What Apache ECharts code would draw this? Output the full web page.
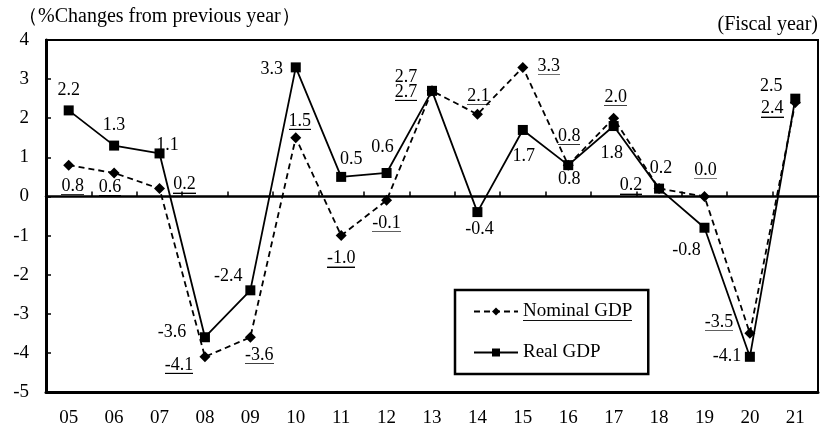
<!DOCTYPE html>
<html>
<head>
<meta charset="utf-8">
<script src="https://cdn.jsdelivr.net/npm/echarts@6/dist/echarts.min.js"></script>
<style>html,body{margin:0;padding:0;background:#fff;}#c{width:821px;height:428px;}</style>
</head>
<body>
<div id="c"></div>
<script>
// ---- data ----
var categories = ['05','06','07','08','09','10','11','12','13','14','15','16','17','18','19','20','21'];
var nominalGDP = [0.8, 0.6, 0.2, -4.1, -3.6, 1.5, -1.0, -0.1, 2.7, 2.1, 3.3, 0.8, 2.0, 0.2, 0.0, -3.5, 2.4];
var realGDP    = [2.2, 1.3, 1.1, -3.6, -2.4, 3.3, 0.5, 0.6, 2.7, -0.4, 1.7, 0.8, 1.8, 0.2, -0.8, -4.1, 2.5];
var yTicks = [-5, -4, -3, -2, -1, 0, 1, 2, 3, 4];

// ---- label placement (style) ----
var realLabelOffset = [[0,-20],[0,-20],[8,-8],[-33,-5],[-22,-14],[-24,2],[10,-18],[-4,-26],[-26,-14],[2,17],[1,26],[1,14],[-2,27],[2,-20],[-18,23],[-23,-1],[-24,-12]];
var nomLabelOffset  = [[4,21],[-4,14],[25,-4],[-26,8],[9,18],[4,-17],[0,23],[0,23],[-26,1],[1,-18],[26,-1],[1,-29],[2,-21],[-28,-3],[1,-26],[-31,-11],[-23,6]];

var FONT = '"Liberation Serif", "Times New Roman", serif';

// underline image: a thin canvas whose bottom row is black, stretched behind the text box
function underlineImage(h) {
  var cv = document.createElement('canvas');
  cv.width = 4; cv.height = h;
  var ctx = cv.getContext('2d');
  ctx.fillStyle = '#000';
  ctx.fillRect(0, h - 1, 4, 1);
  return cv;
}
var UL18 = underlineImage(18);
var UL20 = underlineImage(20);

function items(vals, offs) {
  return vals.map(function (v, i) { return { value: v, label: { offset: offs[i] } }; });
}

var chart = echarts.init(document.getElementById('c'), null, { renderer: 'canvas' });
chart.setOption({
  animation: false,
  backgroundColor: '#fff',
  title: [
    { text: '（%Changes from previous year）', left: 18, top: 7, padding: 0,
      textStyle: { fontFamily: FONT, fontSize: 20, fontWeight: 'normal', color: '#000' } },
    { text: '(Fiscal year)', right: 3, top: 15, padding: 0,
      textStyle: { fontFamily: FONT, fontSize: 20, fontWeight: 'normal', color: '#000' } }
  ],
  grid: { left: 46, right: 3, top: 40, bottom: 35, show: true, borderColor: '#000', borderWidth: 2, backgroundColor: 'transparent' },
  legend: {
    orient: 'vertical', left: 455, top: 290,
    padding: [12, 16, 12, 18], itemGap: 22,
    itemWidth: 44, itemHeight: 10,
    borderColor: '#000', borderWidth: 2.5, backgroundColor: '#fff',
    data: ['Nominal GDP', 'Real GDP'],
    formatter: function (name) {
      return name === 'Nominal GDP' ? '{u|' + name + '}' : '{t|' + name + '}';
    },
    textStyle: {
      color: '#000', fontFamily: FONT, fontSize: 19,
      rich: {
        t: { fontFamily: FONT, fontSize: 19, lineHeight: 20, color: '#000' },
        u: { fontFamily: FONT, fontSize: 19, lineHeight: 20, color: '#000', backgroundColor: { image: UL20 } }
      }
    }
  },
  xAxis: [
    { type: 'category', data: categories, boundaryGap: true, position: 'bottom',
      axisLine: { onZero: false, lineStyle: { color: '#000', width: 3 } },
      axisTick: { show: false },
      axisLabel: { color: '#000', fontFamily: FONT, fontSize: 19, margin: 17 },
      splitLine: { show: false } },
    { type: 'category', data: categories, boundaryGap: true, position: 'bottom',
      axisLine: { onZero: true, lineStyle: { color: '#000', width: 2.5 } },
      axisTick: { show: true, inside: true, length: 5, lineStyle: { color: '#000', width: 1.5 } },
      axisLabel: { show: false },
      splitLine: { show: false } }
  ],
  yAxis: {
    type: 'value', min: yTicks[0], max: yTicks[yTicks.length - 1], interval: 1,
    axisLine: { show: true, onZero: false, lineStyle: { color: '#000', width: 3 } },
    axisTick: { show: true, inside: true, length: 5, lineStyle: { color: '#000', width: 1.5 } },
    axisLabel: { color: '#000', fontFamily: FONT, fontSize: 19, margin: 17 },
    splitLine: { show: false }
  },
  series: [
    {
      name: 'Nominal GDP', type: 'line', xAxisIndex: 0,
      data: items(nominalGDP, nomLabelOffset),
      symbol: 'diamond', symbolSize: 11,
      lineStyle: { color: '#000', width: 1.8, type: [6, 4] },
      itemStyle: { color: '#000' },
      label: {
        show: true, position: 'inside', color: '#000', fontFamily: FONT, fontSize: 18,
        formatter: function (p) { return '{v|' + p.value.toFixed(1) + '}'; },
        rich: {
          v: { fontFamily: FONT, fontSize: 18, lineHeight: 18, color: '#000', backgroundColor: { image: UL18 } }
        }
      },
      z: 3
    },
    {
      name: 'Real GDP', type: 'line', xAxisIndex: 0,
      data: items(realGDP, realLabelOffset),
      symbol: 'rect', symbolSize: 10,
      lineStyle: { color: '#000', width: 1.8 },
      itemStyle: { color: '#000' },
      label: {
        show: true, position: 'inside', color: '#000', fontFamily: FONT, fontSize: 18,
        formatter: function (p) { return p.value.toFixed(1); }
      },
      z: 4
    }
  ]
});
</script>
</body>
</html>
